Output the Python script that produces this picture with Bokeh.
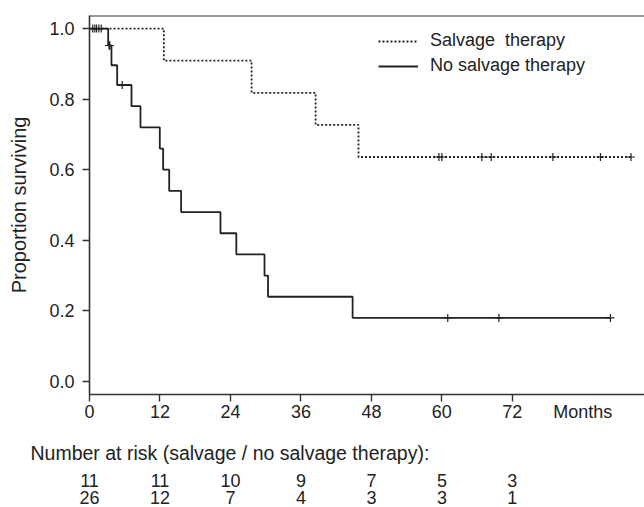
from bokeh.plotting import figure
from bokeh.models import Range1d, FixedTicker, Legend, LegendItem, Span, PrintfTickFormatter
from bokeh.layouts import column
from bokeh.embed import file_html
from bokeh.resources import INLINE
from bokeh.core.properties import value

# ---------------- data ----------------
salvage_time = [0, 12.65, 27.6, 38.5, 45.8, 92.2]
salvage_surv = [1.0, 0.909, 0.818, 0.727, 0.636, 0.636]
salvage_censor_time = [59.5, 60.0, 66.8, 68.4, 78.9, 87.0, 92.2]
salvage_censor_surv = [0.636, 0.636, 0.636, 0.636, 0.636, 0.636, 0.636]

nosalv_time = [0, 3.18, 3.74, 4.71, 7.15, 8.68, 11.97, 12.54, 13.57, 15.6,
               22.3, 25.0, 29.8, 30.4, 44.8, 88.7]
nosalv_surv = [1.0, 0.952, 0.896, 0.840, 0.780, 0.720, 0.660, 0.600, 0.540,
               0.480, 0.420, 0.360, 0.300, 0.240, 0.180, 0.180]
nosalv_censor_time = [0.55, 0.9, 1.2, 1.6, 2.0, 3.35, 3.4, 3.45, 5.57, 61.0, 69.7, 88.7]
nosalv_censor_surv = [1.0, 1.0, 1.0, 1.0, 1.0, 0.952, 0.952, 0.952, 0.840, 0.180, 0.180, 0.180]

x_ticks = [0, 12, 24, 36, 48, 60, 72]
x_unit_pos = 84
x_unit_label = "Months"
y_ticks = [0.0, 0.2, 0.4, 0.6, 0.8, 1.0]

risk_months = [0, 12, 24, 36, 48, 60, 72]
risk_salvage = [11, 11, 10, 9, 7, 5, 3]
risk_nosalvage = [26, 12, 7, 4, 3, 3, 1]
risk_title = "Number at risk (salvage / no salvage therapy):"

# ---------------- layout ----------------
FONT = "Liberation Sans"
INK = "#222222"
AX = "#333333"
X_END = 94.5
Y0, Y1 = -0.037, 1.037
LEFT = 89
W = 644
TOP_H = 430
BOT_H = 77

p = figure(width=W, height=TOP_H, x_range=Range1d(0, X_END), y_range=Range1d(Y0, Y1),
           output_backend="svg", toolbar_location=None,
           min_border_left=LEFT, min_border_right=0, min_border_top=15, min_border_bottom=36)
p.frame_align = False
p.xgrid.visible = False
p.ygrid.visible = False
p.outline_line_color = None
p.background_fill_color = "white"
p.border_fill_color = "white"

for ax in (p.xaxis[0], p.yaxis[0]):
    ax.axis_line_color = AX
    ax.axis_line_width = 1.6
    ax.major_tick_line_color = AX
    ax.major_tick_line_width = 1.4
    ax.major_tick_in = 0
    ax.major_tick_out = 7
    ax.minor_tick_line_color = None
    ax.major_label_text_font = FONT
    ax.major_label_text_font_size = "18px"
    ax.major_label_text_color = INK

# x axis: visible tick marks via minor ticks, "Months" as an unmarked label
p.xaxis.ticker = FixedTicker(ticks=x_ticks + [x_unit_pos], minor_ticks=x_ticks)
p.xaxis.major_label_overrides = {x_unit_pos: x_unit_label}
p.xaxis.major_tick_line_color = None
p.xaxis.minor_tick_line_color = AX
p.xaxis.minor_tick_line_width = 1.4
p.xaxis.minor_tick_in = 0
p.xaxis.minor_tick_out = 7
p.xaxis.major_label_standoff = 0

p.yaxis.ticker = FixedTicker(ticks=y_ticks)
p.yaxis.formatter = PrintfTickFormatter(format="%.1f")
p.yaxis.major_label_standoff = 8
p.yaxis.axis_label = "Proportion surviving"
p.yaxis.axis_label_text_font = FONT
p.yaxis.axis_label_text_font_size = "20px"
p.yaxis.axis_label_text_font_style = "normal"
p.yaxis.axis_label_text_color = INK
p.yaxis.axis_label_standoff = 16

p.add_layout(Span(location=Y1, dimension="width", line_color=AX, line_width=2))

r_salv = p.step(salvage_time, salvage_surv, mode="after", line_color=INK,
                line_width=1.8, line_dash="2 2")
r_nos = p.step(nosalv_time, nosalv_surv, mode="after", line_color=INK, line_width=1.8)
p.scatter(salvage_censor_time, salvage_censor_surv, marker="cross", size=8,
          line_color=INK, line_width=1.2)
p.scatter(nosalv_censor_time, nosalv_censor_surv, marker="cross", size=8,
          line_color=INK, line_width=1.2)

legend = Legend(items=[LegendItem(label="Salvage  therapy", renderers=[r_salv]),
                       LegendItem(label="No salvage therapy", renderers=[r_nos])],
                location=(289, 318), orientation="vertical",
                glyph_width=40, glyph_height=20, label_height=20, spacing=4,
                padding=0, margin=0, label_standoff=12,
                border_line_color=None, background_fill_alpha=0,
                label_text_font=FONT, label_text_font_size="18px", label_text_color=INK)
p.add_layout(legend)

# ---------------- at-risk table ----------------
px_per_month = (W - LEFT) / X_END
t = figure(width=W, height=BOT_H, x_range=Range1d(-LEFT / px_per_month, X_END),
           y_range=Range1d(-10 / 17, (BOT_H - 10) / 17), output_backend="svg",
           toolbar_location=None, min_border=0,
           x_axis_location=None, y_axis_location=None)
t.frame_align = False
t.xgrid.visible = False
t.ygrid.visible = False
t.outline_line_color = None

t.text(x=[-10.05], y=[2.59], text=[risk_title],
       text_align="left", text_baseline="middle", text_font=value(FONT),
       text_font_size="19.5px", text_color=INK)
t.text(x=risk_months, y=[1] * len(risk_months), text=[str(v) for v in risk_salvage],
       text_align="center", text_baseline="middle", text_font=value(FONT),
       text_font_size="18px", text_color=INK)
t.text(x=risk_months, y=[0] * len(risk_months), text=[str(v) for v in risk_nosalvage],
       text_align="center", text_baseline="middle", text_font=value(FONT),
       text_font_size="18px", text_color=INK)

layout = column(p, t)
open("out.html", "w").write(file_html(layout, INLINE))
